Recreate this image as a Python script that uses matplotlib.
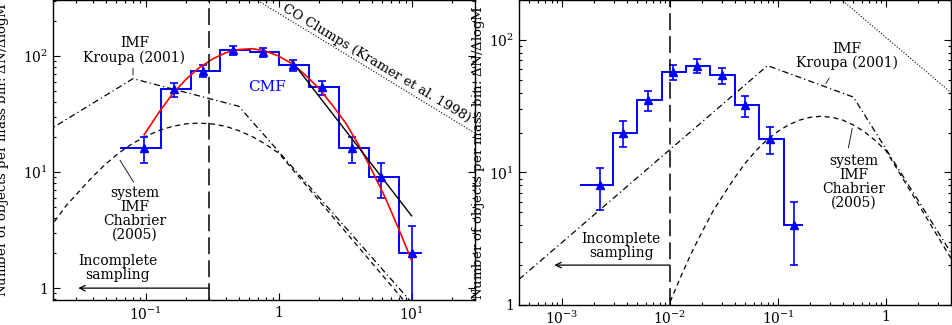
import matplotlib
matplotlib.use('Agg')
import matplotlib.pyplot as plt

plt.rcParams['font.family'] = 'DejaVu Serif'
plt.rcParams['mathtext.fontset'] = 'dejavuserif'

# ---- left panel: core mass function ----
left_edges = [0.064, 0.130, 0.217, 0.364, 0.607, 1.01, 1.70, 2.85, 4.76, 7.98, 11.9]
left_mass = [0.097, 0.162, 0.27, 0.455, 0.764, 1.28, 2.13, 3.54, 5.9, 10.0]
left_n = [16, 52, 75, 112, 108, 84, 54, 16, 9, 2]
left_err = [4, 7.2, 8.7, 10.6, 10.4, 9.2, 7.3, 4, 3, 1.4]

# lognormal fit (red)
fit_m = [0.097, 0.126, 0.158, 0.2, 0.25, 0.32, 0.4, 0.5, 0.63, 0.79, 1.0,
         1.26, 1.58, 2.0, 2.5, 3.2, 4.0, 5.0, 6.3, 7.9, 10.0]
fit_n = [21, 33, 47, 63, 79, 95, 107, 114, 116, 111, 100,
         86, 69, 53, 38.5, 26.4, 17.1, 10.5, 6.1, 3.35, 1.74]

# power-law fit to the high-mass end (black)
pl_m = [1.26, 10.0]
pl_n = [90, 4.2]

# CO clumps mass spectrum (dotted)
co_left_m = [0.5, 30]
co_left_n = [380, 21.7]

left_limit = 0.3

# ---- right panel ----
right_edges = [1.47e-3, 2.95e-3, 5.0e-3, 8.5e-3, 0.01416, 0.02366, 0.0398, 0.0668, 0.1127, 0.169]
right_mass = [2.23e-3, 3.7e-3, 6.3e-3, 0.0106, 0.0178, 0.030, 0.050, 0.084, 0.14]
right_n = [8, 20, 35, 57, 64, 54, 32, 18, 4]
right_err = [2.8, 4.5, 5.9, 7.5, 8, 7.3, 5.7, 4.2, 2]

co_right_m = [0.3, 4]
co_right_n = [240, 40]

right_limit = 0.01

# Kroupa (2001) IMF (dash-dot)
kroupa_m = [4e-4, 0.08, 0.5, 30]
kroupa_n = [1.56, 64, 37, 0.18]

# Chabrier (2005) system IMF (dashed)
chab_m = [0.005, 0.0063, 0.0079, 0.01, 0.0126, 0.0158, 0.02, 0.025, 0.032, 0.04,
          0.05, 0.063, 0.079, 0.1, 0.126, 0.158, 0.2, 0.25, 0.32, 0.4,
          0.5, 0.63, 0.79, 1.0, 30]
chab_n = [0.226, 0.389, 0.649, 1.05, 1.64, 2.47, 3.61, 5.1, 6.98, 9.2,
          11.8, 14.7, 17.6, 20.4, 22.9, 24.8, 26.1, 26.5, 26.0, 24.8,
          22.8, 20.3, 17.5, 14.6, 0.148]

ylab = r'Number of objects per mass bin: $\Delta$N/$\Delta$logM'
xlab = r'Mass M (M$_\odot$)'

fig = plt.figure(figsize=(9.52, 3.25), dpi=100)
ax1 = fig.add_axes([53/952, 25/325, 422/952, 300/325])
ax2 = fig.add_axes([519/952, 20/325, 432/952, 305/325])

blue = '#0000ff'

def common(ax):
    ax.set_xscale('log')
    ax.set_yscale('log')
    ax.tick_params(which='both', direction='in', top=True, right=True, width=0.8, labelsize=10)
    ax.tick_params(which='major', length=5)
    ax.tick_params(which='minor', length=2.5)
    for s in ax.spines.values():
        s.set_linewidth(1.0)

def imf_lines(ax):
    ax.plot(kroupa_m, kroupa_n, color='k', lw=0.9, dashes=(5, 2.5, 1, 2.5))
    ax.plot(chab_m, chab_n, color='k', lw=0.9, dashes=(4, 3))

# left
common(ax1)
imf_lines(ax1)
ax1.plot(co_left_m, co_left_n, color='k', lw=0.8, ls=':')
ax1.stairs(left_n, left_edges, baseline=None, color=blue, lw=1.4)
ax1.errorbar(left_mass, left_n, yerr=left_err, fmt='^', color=blue, ms=6,
             elinewidth=1.2, capsize=3, capthick=1.2)
ax1.plot(fit_m, fit_n, color='red', lw=1.2)
ax1.plot(pl_m, pl_n, color='k', lw=1.0)
ax1.axvline(left_limit, color='k', lw=1.1, dashes=(11, 4))
ax1.set_xlim(0.02, 30)
ax1.set_ylim(0.79, 305)
ax1.set_xticks([0.1, 1, 10], [r'$10^{-1}$', '1', r'$10^{1}$'])
ax1.set_yticks([1, 10, 100], ['1', r'$10^{1}$', r'$10^{2}$'])
ax1.tick_params(axis='y', pad=3.5)
ax1.tick_params(axis='x', pad=4)
ax1.set_ylabel(ylab, fontsize=9.5)
ax1.yaxis.set_label_coords(-0.099, 0.5)
ax1.set_xlabel(xlab, fontsize=10, labelpad=1)

ax1.text(0.082, 112, 'IMF\nKroupa (2001)', ha='center', va='center', fontsize=10, linespacing=1.0)
ax1.annotate('', xy=(0.08, 65), xytext=(0.08, 83), arrowprops=dict(arrowstyle='-', lw=0.6))
ax1.text(0.082, 4.38, 'system\nIMF\nChabrier\n(2005)', ha='center', va='center', fontsize=10, linespacing=1.0)
ax1.annotate('', xy=(0.0622, 13.3), xytext=(0.083, 7.8), arrowprops=dict(arrowstyle='-', lw=0.6))
ax1.text(0.0615, 1.49, 'Incomplete\nsampling', ha='center', va='center', fontsize=10, linespacing=1.0)
ax1.annotate('', xy=(0.031, 1), xytext=(left_limit, 1),
             arrowprops=dict(arrowstyle='->', lw=0.9, shrinkA=0, shrinkB=0))
ax1.text(0.82, 54, 'CMF', color=blue, ha='center', va='center', fontsize=11)
ax1.text(5.4, 86, 'CO Clumps (Kramer et al. 1998)', rotation=-31, rotation_mode='anchor',
         ha='center', va='center', fontsize=9.5)

# right
common(ax2)
imf_lines(ax2)
ax2.plot(co_right_m, co_right_n, color='k', lw=0.8, ls=':')
ax2.stairs(right_n, right_edges, baseline=None, color=blue, lw=1.4)
ax2.errorbar(right_mass, right_n, yerr=right_err, fmt='^', color=blue, ms=6,
             elinewidth=1.2, capsize=3, capthick=1.2)
ax2.axvline(right_limit, color='k', lw=1.1, dashes=(11, 4))
ax2.set_xlim(4e-4, 4)
ax2.set_ylim(1, 200)
ax2.set_xticks([1e-3, 1e-2, 0.1, 1], [r'$10^{-3}$', r'$10^{-2}$', r'$10^{-1}$', '1'])
ax2.set_yticks([1, 10, 100], ['1', r'$10^{1}$', r'$10^{2}$'])
ax2.tick_params(axis='y', pad=3.5)
ax2.tick_params(axis='x', pad=3.6)
ax2.set_ylabel(ylab, fontsize=9.5)
ax2.yaxis.set_label_coords(-0.073, 0.5)
ax2.set_xlabel(xlab, fontsize=10, labelpad=1)

ax2.text(0.436, 75.8, 'IMF\nKroupa (2001)', ha='center', va='center', fontsize=10, linespacing=1.0)
ax2.annotate('', xy=(0.269, 45), xytext=(0.308, 53.6), arrowprops=dict(arrowstyle='-', lw=0.6))
ax2.text(0.5, 8.5, 'system\nIMF\nChabrier\n(2005)', ha='center', va='center', fontsize=10, linespacing=1.0)
ax2.annotate('', xy=(0.493, 22.6), xytext=(0.443, 14.6), arrowprops=dict(arrowstyle='-', lw=0.6))
ax2.text(3.53e-3, 2.8, 'Incomplete\nsampling', ha='center', va='center', fontsize=10, linespacing=1.0)
ax2.annotate('', xy=(8.5e-4, 2), xytext=(right_limit, 2),
             arrowprops=dict(arrowstyle='->', lw=0.9, shrinkA=0, shrinkB=0))

fig.savefig('out.png', dpi=100)
